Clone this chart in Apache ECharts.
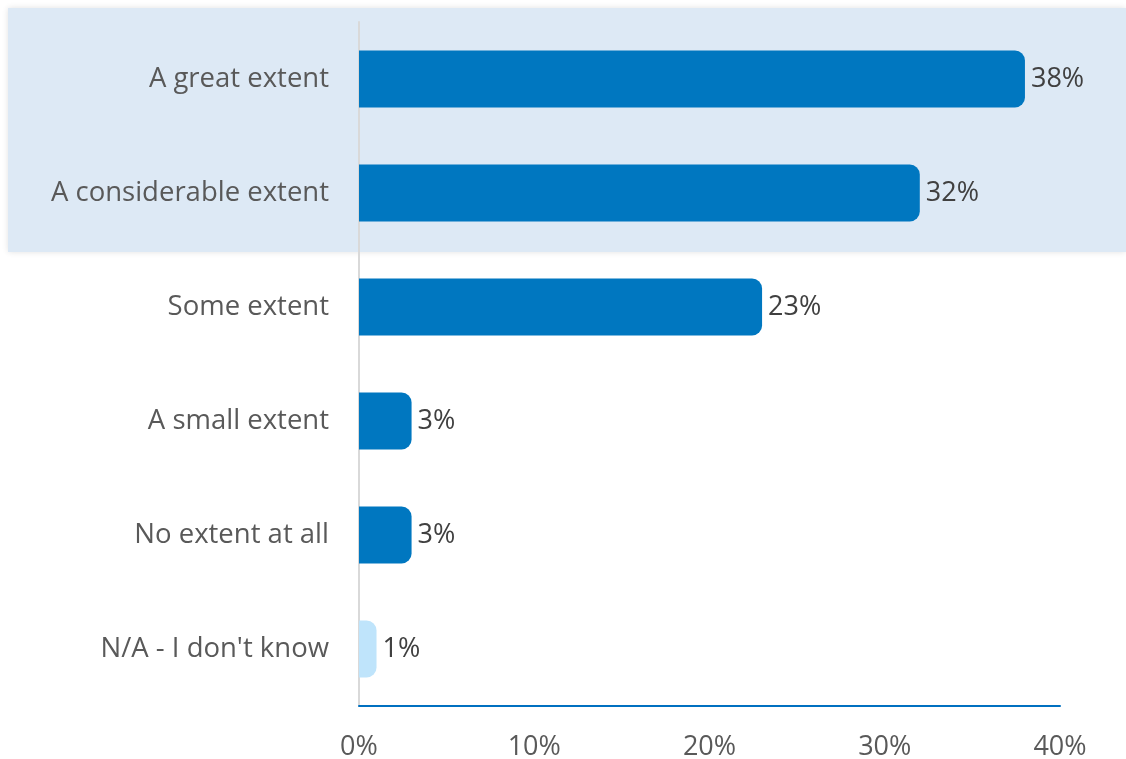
<!DOCTYPE html>
<html>
<head>
<meta charset="utf-8">
<script src="https://cdn.jsdelivr.net/npm/echarts@6/dist/echarts.min.js"></script>
<style>html,body{margin:0;padding:0;background:#fff}#c{width:1126px;height:759px}</style>
</head>
<body>
<div id="c"></div>
<script>
const categories = ["A great extent", "A considerable extent", "Some extent", "A small extent", "No extent at all", "N/A - I don't know"];
const values = [38, 32, 23, 3, 3, 1];
const barColors = ["#0077c0", "#0077c0", "#0077c0", "#0077c0", "#0077c0", "#bfe4fb"];
const xTicks = [0, 10, 20, 30, 40];

const chart = echarts.init(document.getElementById('c'), null, {renderer: 'canvas'});
const FONT = '"Open Sans", "Noto Sans", sans-serif';
chart.setOption({
  animation: false,
  backgroundColor: '#ffffff',
  graphic: [{
    type: 'rect', z: -10, silent: true,
    shape: {x: 8, y: 8, width: 1118, height: 244},
    style: {fill: '#dde9f5', shadowBlur: 6, shadowColor: 'rgba(0,0,0,0.12)'}
  }],
  grid: {left: 359, right: 66, top: 22, bottom: 53, containLabel: false, outerBoundsMode: 'none'},
  xAxis: {
    type: 'value', min: xTicks[0], max: xTicks[xTicks.length - 1], interval: xTicks[1] - xTicks[0],
    axisLine: {show: true, lineStyle: {color: '#0070c0', width: 2}},
    axisTick: {show: false},
    splitLine: {show: false},
    axisLabel: {formatter: v => v + '%', color: '#595959', fontSize: 27, fontFamily: FONT, margin: 28}
  },
  yAxis: {
    type: 'category', data: categories, inverse: true,
    axisLine: {show: true, lineStyle: {color: '#d9d9d9', width: 2}},
    axisTick: {show: false},
    axisLabel: {color: '#595959', fontSize: 27.5, fontFamily: FONT, margin: 30}
  },
  series: [{
    type: 'bar',
    data: values.map((v, i) => ({value: v, itemStyle: {color: barColors[i]}})),
    barWidth: 57,
    itemStyle: {borderRadius: [0, 10, 10, 0]},
    label: {show: true, position: 'right', distance: 6, formatter: p => p.value + '%', color: '#404040', fontSize: 27, fontFamily: FONT}
  }]
});
</script>
</body>
</html>
